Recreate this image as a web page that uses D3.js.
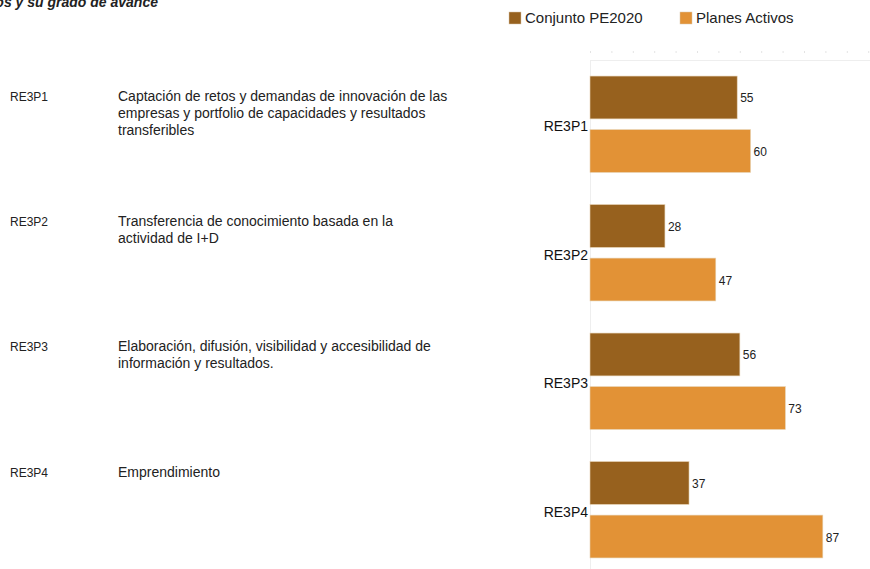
<!DOCTYPE html>
<html>
<head>
<meta charset="utf-8">
<script src="https://cdn.jsdelivr.net/npm/d3@7"></script>
<style>
  body { margin: 0; background: #fff; }
  svg { display: block; font-family: "Liberation Sans", Arial, sans-serif; }
</style>
</head>
<body>
<div id="chart"></div>
<script>
const categories = ["RE3P1", "RE3P2", "RE3P3", "RE3P4"];
const descriptions = [
  ["Captación de retos y demandas de innovación de las", "empresas y portfolio de capacidades y resultados", "transferibles"],
  ["Transferencia de conocimiento basada en la", "actividad de I+D"],
  ["Elaboración, difusión, visibilidad y accesibilidad de", "información y resultados."],
  ["Emprendimiento"]
];
const seriesNames = ["Conjunto PE2020", "Planes Activos"];
const conjuntoValues = [55, 28, 56, 37];
const planesValues = [60, 47, 73, 87];
const colors = ["#97611e", "#e29236"];

const width = 870, height = 569;
const svg = d3.select("#chart").append("svg")
  .attr("width", width)
  .attr("height", height);

// title (clipped by the top-left edge, as in the original)
svg.append("text")
  .attr("x", 158)
  .attr("y", 7)
  .attr("text-anchor", "end")
  .style("font-size", "14px")
  .style("font-weight", "bold")
  .style("font-style", "italic")
  .attr("fill", "#222")
  .text("Retos Estratégicos y su grado de avance");

const x = d3.scaleLinear().domain([0, 105]).range([590, 871]);

const y0 = d3.scaleBand()
  .domain(categories)
  .range([60, 574])
  .paddingInner(0.25)
  .paddingOuter(0.125);

const y1 = d3.scaleBand()
  .domain(seriesNames)
  .range([0, y0.bandwidth()])
  .paddingInner(0.2);

// rows of the left-hand table
const rowY = d3.scalePoint()
  .domain(categories)
  .range([100.5, 476.5]);

// frame lines
svg.append("line")
  .attr("x1", x(0)).attr("x2", width)
  .attr("y1", 52).attr("y2", 52)
  .attr("stroke", "#c8c8c8")
  .attr("stroke-dasharray", "1,20.4");
svg.append("line")
  .attr("x1", x(0)).attr("x2", width)
  .attr("y1", 60.5).attr("y2", 60.5)
  .attr("stroke", "#eeeeee");
svg.append("line")
  .attr("x1", x(0) + 0.5).attr("x2", x(0) + 0.5)
  .attr("y1", 60).attr("y2", height)
  .attr("stroke", "#eeeeee");

// legend
const legend = svg.append("g");
const legendX = [509, 680];
seriesNames.forEach((name, i) => {
  legend.append("rect")
    .attr("x", legendX[i]).attr("y", 12)
    .attr("width", 12).attr("height", 12)
    .attr("fill", colors[i])
    .attr("stroke", "#d9c7ad").attr("stroke-width", 0.5);
  legend.append("text")
    .attr("x", legendX[i] + 16).attr("y", 23)
    .style("font-size", "15px")
    .attr("fill", "#222")
    .text(name);
});

// left table
const rows = svg.append("g");
categories.forEach((c, i) => {
  const top = rowY(c);
  rows.append("text")
    .attr("x", 10).attr("y", top)
    .style("font-size", "12px")
    .attr("fill", "#222")
    .text(c);
  const t = rows.append("text")
    .attr("x", 118).attr("y", top)
    .style("font-size", "14px")
    .attr("fill", "#222");
  descriptions[i].forEach((line, j) => {
    t.append("tspan").attr("x", 118).attr("y", top + j * 17).text(line);
  });
});

// category labels
svg.append("g").selectAll("text")
  .data(categories)
  .enter()
  .append("text")
  .attr("x", 588)
  .attr("y", d => y0(d) + y0.bandwidth() / 2 + 7)
  .attr("text-anchor", "end")
  .style("font-size", "14px")
  .attr("fill", "#111")
  .text(d => d);

// bars
const data = categories.map((c, i) => ({
  cat: c,
  values: [
    { name: seriesNames[0], value: conjuntoValues[i], color: colors[0] },
    { name: seriesNames[1], value: planesValues[i], color: colors[1] }
  ]
}));

const groups = svg.append("g").selectAll("g")
  .data(data)
  .enter()
  .append("g")
  .attr("transform", d => `translate(0,${y0(d.cat)})`);

groups.selectAll("rect")
  .data(d => d.values)
  .enter()
  .append("rect")
  .attr("x", x(0))
  .attr("y", d => y1(d.name))
  .attr("width", d => x(d.value) - x(0))
  .attr("height", y1.bandwidth())
  .attr("fill", d => d.color)
  .attr("stroke", "#e6d2b4")
  .attr("stroke-width", 0.6);

groups.selectAll("text")
  .data(d => d.values)
  .enter()
  .append("text")
  .attr("x", d => x(d.value) + 3)
  .attr("y", d => y1(d.name) + y1.bandwidth() / 2 + 5)
  .style("font-size", "12px")
  .attr("fill", "#222")
  .text(d => d.value);
</script>
</body>
</html>
